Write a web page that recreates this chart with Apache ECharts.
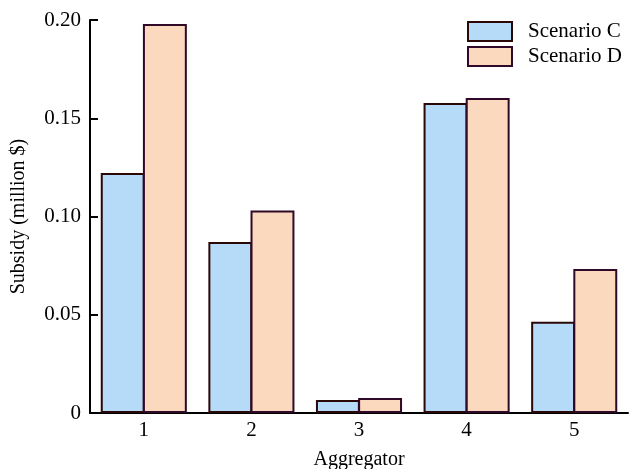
<!DOCTYPE html>
<html>
<head>
<meta charset="utf-8">
<script src="https://cdn.jsdelivr.net/npm/echarts@6/dist/echarts.min.js"></script>
<style>html,body{margin:0;padding:0;background:#fff;}#c{width:630px;height:469px;}</style>
</head>
<body>
<div id="c"></div>
<script>
const categories = ['1', '2', '3', '4', '5'];
const scenarioC = [0.1222, 0.087, 0.0066, 0.1578, 0.0465];
const scenarioD = [0.198, 0.103, 0.0076, 0.1603, 0.0733];
const yTicks = [0, 0.05, 0.10, 0.15, 0.20];

const font = 'Liberation Serif, Times New Roman, serif';
const chart = echarts.init(document.getElementById('c'));
chart.setOption({
  backgroundColor: '#fff',
  animation: false,
  textStyle: { fontFamily: font },
  grid: { left: 90, right: 2, top: 20, bottom: 56, outerBoundsMode: 'none', containLabel: false },
  legend: {
    orient: 'vertical',
    left: 467, top: 21,
    icon: 'rect',
    itemWidth: 44, itemHeight: 19, itemGap: 4,
    padding: 0,
    textStyle: { fontFamily: font, fontSize: 21, color: '#000', lineHeight: 19, padding: [0, 0, 0, 11] },
    data: ['Scenario C', 'Scenario D']
  },
  xAxis: {
    type: 'category',
    data: categories,
    name: 'Aggregator',
    nameLocation: 'middle',
    nameGap: 37,
    nameTextStyle: { fontFamily: font, fontSize: 20, color: '#000' },
    axisLine: { lineStyle: { color: '#000', width: 2 } },
    axisTick: { inside: true, length: 6, lineStyle: { color: '#000', width: 2 } },
    axisLabel: { fontFamily: font, fontSize: 21, color: '#000', margin: 7 }
  },
  yAxis: {
    type: 'value',
    min: 0, max: 0.2, interval: 0.05,
    name: 'Subsidy (million $)',
    nameLocation: 'middle',
    nameGap: 61,
    nameTextStyle: { fontFamily: font, fontSize: 20, color: '#000' },
    splitLine: { show: false },
    axisLine: { show: true, lineStyle: { color: '#000', width: 2 } },
    axisTick: { show: true, inside: true, length: 8, lineStyle: { color: '#000', width: 2 } },
    axisLabel: {
      fontFamily: font, fontSize: 21, color: '#000', margin: 9,
      formatter: function (v) {
        const t = yTicks.find(x => Math.abs(x - v) < 1e-9);
        if (t === 0) return '0';
        return t !== undefined ? t.toFixed(2) : '';
      }
    }
  },
  series: [
    {
      name: 'Scenario C', type: 'bar', data: scenarioC,
      barGap: '-4%', barCategoryGap: '20%',
      itemStyle: { color: '#b5dbf8', borderColor: '#2a0808', borderWidth: 2 }
    },
    {
      name: 'Scenario D', type: 'bar', data: scenarioD,
      barGap: '-4%', barCategoryGap: '20%',
      itemStyle: { color: '#fbd9bf', borderColor: '#300828', borderWidth: 2 }
    }
  ]
});
</script>
</body>
</html>
